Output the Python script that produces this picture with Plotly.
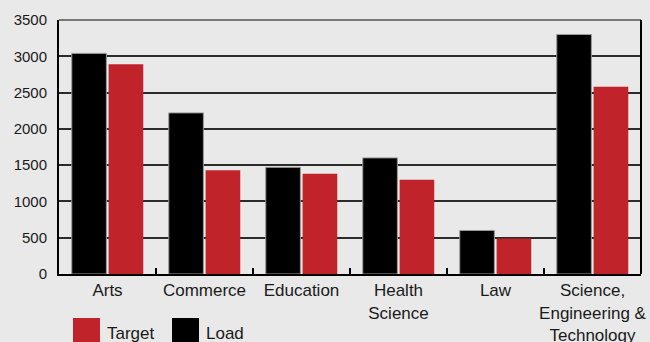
import plotly.graph_objects as go

categories = ["Arts", "Commerce", "Education", "Health<br>Science", "Law",
              "Science,<br>Engineering &amp;<br>Technology"]
load = [3040, 2220, 1470, 1600, 600, 3300]
target = [2890, 1430, 1380, 1300, 490, 2580]
y_ticks = [0, 500, 1000, 1500, 2000, 2500, 3000, 3500]

RED = "#c1232a"
BLACK = "#000000"
BG = "#e9e9e9"
FONT = "Liberation Sans, Arial, sans-serif"

W, H = 650, 342
ML, MR, MT, MB = 59, 9, 20, 68

fig = go.Figure()
fig.add_trace(go.Bar(name="Load", x=categories, y=load, marker_color=BLACK,
                     marker_line=dict(color="#9a9a9a", width=1)))
fig.add_trace(go.Bar(name="Target", x=categories, y=target, marker_color=RED,
                     marker_line=dict(width=0)))

fig.update_layout(
    width=W, height=H,
    margin=dict(l=ML, r=MR, t=MT, b=MB),
    paper_bgcolor=BG, plot_bgcolor=BG,
    barmode="group", bargap=0.24, bargroupgap=0.06,
    showlegend=False,
    font=dict(family=FONT, size=17, color="#1a1a1a"),
)
fig.update_xaxes(
    showline=True, linecolor=BLACK, linewidth=2,
    ticks="inside", tickson="boundaries", ticklen=6, tickcolor=BLACK, tickwidth=2,
    showgrid=False, tickfont=dict(size=17), tickangle=0, automargin=False,
)
fig.update_yaxes(
    range=[0, 3500], tickvals=y_ticks, ticks="",
    showline=True, linecolor=BLACK, linewidth=2,
    showgrid=True, gridcolor="#2b2b2b", gridwidth=1.5,
    zeroline=False, tickfont=dict(size=15), ticklabelstandoff=7, automargin=False,
)

# top edge of the frame is a softer grey; right edge is black
fig.add_shape(type="line", xref="paper", yref="paper", x0=0, x1=1, y0=1, y1=1,
              line=dict(color="#777777", width=2))
fig.add_shape(type="line", xref="paper", yref="paper", x0=1, x1=1, y0=0, y1=1,
              line=dict(color=BLACK, width=2))

# legend drawn as large colour swatches with labels
pw = W - ML - MR
ph = H - MT - MB
def px_x(px):
    return (px - ML) / pw
def px_y(py):
    return (H - MB - py) / ph

legend_items = [("Target", RED, 73), ("Load", BLACK, 172)]
for name, color, x0 in legend_items:
    fig.add_shape(type="rect", xref="paper", yref="paper",
                  x0=px_x(x0), x1=px_x(x0 + 27), y0=px_y(346), y1=px_y(318),
                  fillcolor=color, line=dict(width=0))
    fig.add_annotation(text=name, xref="paper", yref="paper",
                       x=px_x(x0 + 32), y=px_y(333), xanchor="left", yanchor="middle",
                       showarrow=False, font=dict(size=17, color="#1a1a1a"))

fig.write_html("out.html")
